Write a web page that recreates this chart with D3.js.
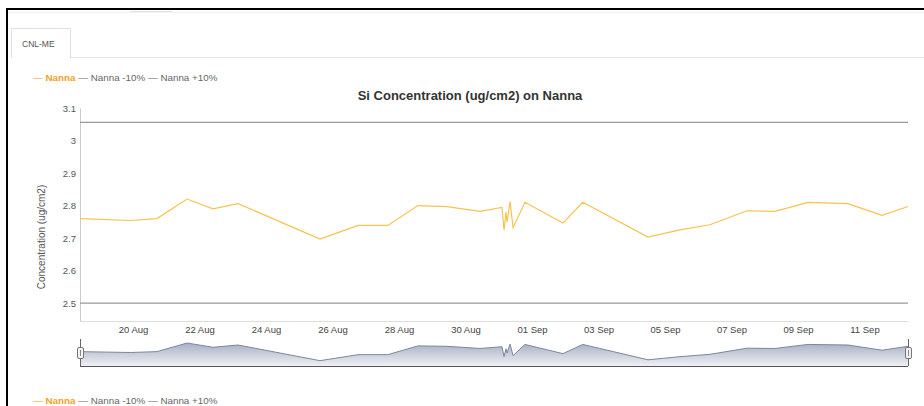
<!DOCTYPE html>
<html>
<head>
<meta charset="utf-8">
<script src="https://cdn.jsdelivr.net/npm/d3@7"></script>
<style>
  body { margin: 0; background: #fff; }
  svg { display: block; font-family: "Liberation Sans", Arial, sans-serif; }
</style>
</head>
<body>
<svg id="chart" width="924" height="406"></svg>
<script>
// readings for Nanna
var dates = [
    "2016-08-18 09:45", "2016-08-19 22:00", "2016-08-20 17:20", "2016-08-21 15:00",
    "2016-08-22 09:45", "2016-08-23 03:50", "2016-08-25 15:00", "2016-08-26 18:30",
    "2016-08-27 16:00", "2016-08-28 13:40", "2016-08-29 10:30", "2016-08-30 10:30",
    "2016-08-31 02:20", "2016-08-31 03:50", "2016-08-31 05:15", "2016-08-31 06:00",
    "2016-08-31 08:10", "2016-08-31 10:20", "2016-08-31 18:55", "2016-09-01 22:20",
    "2016-09-02 12:40", "2016-09-04 11:45", "2016-09-05 10:50", "2016-09-06 08:25",
    "2016-09-07 11:15", "2016-09-08 07:25", "2016-09-09 07:10", "2016-09-10 12:00",
    "2016-09-11 12:45", "2016-09-12 07:25"
];
var nanna = [
    2.760, 2.754, 2.760, 2.820,
    2.790, 2.806, 2.697, 2.739,
    2.739, 2.800, 2.797, 2.782,
    2.794, 2.725, 2.780, 2.750,
    2.812, 2.732, 2.810, 2.746,
    2.810, 2.703, 2.725, 2.741,
    2.784, 2.782, 2.810, 2.806,
    2.770, 2.797
];
var limitDates = ["2016-08-18 09:45", "2016-09-12 07:25"];
var nannaMinus10 = [2.5, 2.5];
var nannaPlus10 = [3.056, 3.056];

var yTicks = [2.5, 2.6, 2.7, 2.8, 2.9, 3, 3.1];
var xTicks = ["2016-08-20", "2016-08-22", "2016-08-24", "2016-08-26", "2016-08-28", "2016-08-30",
    "2016-09-01", "2016-09-03", "2016-09-05", "2016-09-07", "2016-09-09", "2016-09-11"];

var legendItems = [
    { name: "Nanna", color: "#f0a21e" },
    { name: "Nanna -10%", color: "#666" },
    { name: "Nanna +10%", color: "#666" }
];

var parseTime = d3.timeParse("%Y-%m-%d %H:%M");
var parseDay = d3.timeParse("%Y-%m-%d");

var svg = d3.select("#chart");

// page frame + tab
svg.append("rect").attr("x", 6).attr("y", 8).attr("width", 930).attr("height", 2).attr("fill", "#000");
svg.append("rect").attr("x", 6).attr("y", 8).attr("width", 2).attr("height", 400).attr("fill", "#000");
svg.append("rect").attr("x", 130).attr("y", 11).attr("width", 42).attr("height", 2).attr("fill", "#e2e2e2");
svg.append("line").attr("x1", 8).attr("x2", 924).attr("y1", 12.5).attr("y2", 12.5).attr("stroke", "#f2f2f2");
svg.append("line").attr("x1", 70).attr("x2", 924).attr("y1", 57.5).attr("y2", 57.5).attr("stroke", "#e6e6e6");
svg.append("path").attr("d", "M11.5,58V28.5H70.5V58").attr("fill", "none").attr("stroke", "#e0e0e0");
svg.append("text").attr("x", 22).attr("y", 47).attr("font-size", 8.5).attr("fill", "#555").text("CNL-ME");

function legend(y) {
    var t = svg.append("text").attr("x", 33).attr("y", y).attr("font-size", 9.8);
    legendItems.forEach(function (d, i) {
        t.append("tspan").attr("fill", d.color).text("\u2014 ");
        t.append("tspan").attr("fill", d.color)
            .attr("font-weight", i == 0 ? "bold" : "normal")
            .text(d.name + (i < legendItems.length - 1 ? " " : ""));
    });
}
legend(81);
legend(404);

svg.append("text")
    .attr("x", 470).attr("y", 100)
    .attr("text-anchor", "middle")
    .attr("font-size", 13).attr("font-weight", "bold").attr("fill", "#333")
    .text("Si Concentration (ug/cm2) on Nanna");

var x = d3.scaleTime()
    .domain([parseTime(dates[0]), parseTime(dates[dates.length - 1])])
    .range([80, 908]);

var y = d3.scaleLinear()
    .domain([2.445, 3.1])
    .range([321, 108]);

// y axis
var yAxis = svg.append("g")
    .attr("transform", "translate(80,0)")
    .call(d3.axisLeft(y).tickValues(yTicks).tickFormat(d3.format("~")).tickSize(0).tickPadding(4));
yAxis.select(".domain").attr("stroke", "#ccc");
yAxis.selectAll("text").attr("font-size", 9.5).attr("fill", "#555").attr("font-family", null);

svg.append("text")
    .attr("transform", "translate(45,237) rotate(-90)")
    .attr("text-anchor", "middle")
    .attr("font-size", 10).attr("fill", "#555")
    .text("Concentration (ug/cm2)");

// x axis
var xAxis = svg.append("g")
    .attr("transform", "translate(0,321)")
    .call(d3.axisBottom(x).tickValues(xTicks.map(parseDay)).tickFormat(d3.timeFormat("%d %b")).tickSize(0).tickPadding(5));
xAxis.select(".domain").attr("stroke", "#ddd");
xAxis.selectAll("text").attr("font-size", 9.5).attr("fill", "#444").attr("font-family", null);

// limit lines
var limitLine = d3.line()
    .x(function (d) { return x(parseTime(d.date)); })
    .y(function (d) { return y(d.value); });

[nannaMinus10, nannaPlus10].forEach(function (vals) {
    svg.append("path")
        .datum(vals.map(function (v, i) { return { date: limitDates[i], value: v }; }))
        .attr("d", limitLine)
        .attr("fill", "none")
        .attr("stroke", "#999")
        .attr("stroke-width", 1.3);
});

var points = dates.map(function (d, i) { return { date: d, value: nanna[i] }; });

svg.append("path")
    .datum(points)
    .attr("d", limitLine)
    .attr("fill", "none")
    .attr("stroke", "#f8c24e")
    .attr("stroke-width", 1.2);

// navigator
var defs = svg.append("defs");
var grad = defs.append("linearGradient").attr("id", "navfill").attr("x1", 0).attr("x2", 0).attr("y1", 0).attr("y2", 1);
grad.append("stop").attr("offset", "0%").attr("stop-color", "#a7b0c4");
grad.append("stop").attr("offset", "100%").attr("stop-color", "#eef0f4");

var yNav = d3.scaleLinear()
    .domain([2.66, 2.82])
    .range([366, 343]);

var navArea = d3.area()
    .x(function (d) { return x(parseTime(d.date)); })
    .y0(366)
    .y1(function (d) { return yNav(d.value); });

svg.append("path")
    .datum(points)
    .attr("d", navArea)
    .attr("fill", "url(#navfill)");

svg.append("path")
    .datum(points)
    .attr("d", navArea.lineY1())
    .attr("fill", "none")
    .attr("stroke", "#7b879e")
    .attr("stroke-width", 1);

svg.append("line").attr("x1", 80).attr("x2", 908).attr("y1", 366.5).attr("y2", 366.5)
    .attr("stroke", "#555").attr("stroke-width", 1.2);

[80, 908].forEach(function (hx) {
    svg.append("line").attr("x1", hx + 0.5).attr("x2", hx + 0.5).attr("y1", 339).attr("y2", 366)
        .attr("stroke", "#666");
    svg.append("rect").attr("x", hx - 2.5).attr("y", 347.5).attr("width", 6).attr("height", 11)
        .attr("rx", 1.5).attr("fill", "#f2f2f2").attr("stroke", "#777");
    svg.append("line").attr("x1", hx + 0.5).attr("x2", hx + 0.5).attr("y1", 350).attr("y2", 356)
        .attr("stroke", "#888");
});
</script>
</body>
</html>
